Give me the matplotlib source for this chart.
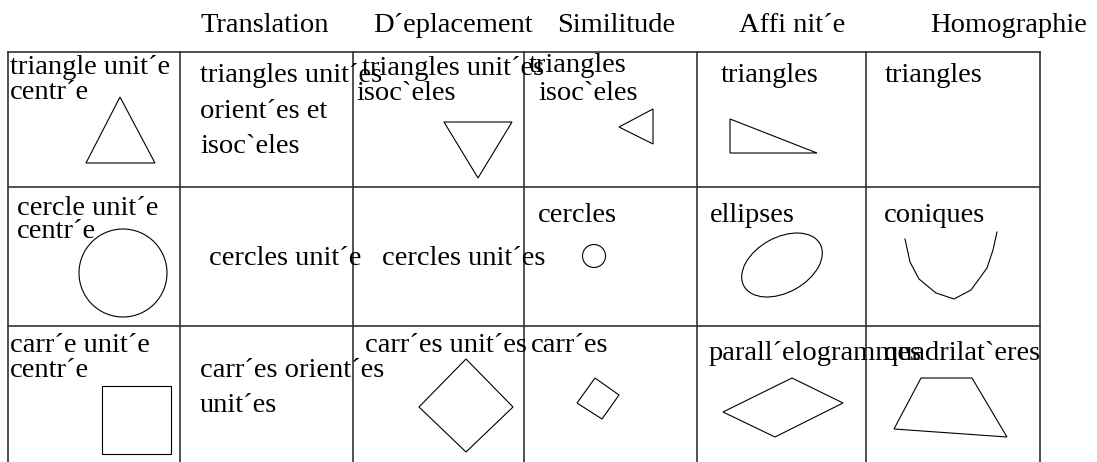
import matplotlib.pyplot as plt
from matplotlib.patches import Polygon, Circle, Ellipse

plt.rcParams['font.family'] = ['Liberation Serif', 'DejaVu Serif']

# column headers (transformations)
headers = ["Translation", "D´eplacement", "Similitude", "Affi nit´e", "Homographie"]

# text lines inside the cells: (row, col, line)
cell_lines = [
    (0, 0, "triangle unit´e"), (0, 0, "centr´e"),
    (0, 1, "triangles unit´es"), (0, 1, "orient´es et"), (0, 1, "isoc`eles"),
    (0, 2, "triangles unit´es"), (0, 2, "isoc`eles"),
    (0, 3, "triangles"), (0, 3, "isoc`eles"),
    (0, 4, "triangles"),
    (0, 5, "triangles"),
    (1, 0, "cercle unit´e"), (1, 0, "centr´e"),
    (1, 1, "cercles unit´e"),
    (1, 2, "cercles unit´es"),
    (1, 3, "cercles"),
    (1, 4, "ellipses"),
    (1, 5, "coniques"),
    (2, 0, "carr´e unit´e"), (2, 0, "centr´e"),
    (2, 1, "carr´es orient´es"), (2, 1, "unit´es"),
    (2, 2, "carr´es unit´es"),
    (2, 3, "carr´es"),
    (2, 4, "parall´elogrammes"),
    (2, 5, "quadrilat`eres"),
]

# shapes drawn in the cells (pixel coordinates of the page)
tri_unit = [(86, 163), (155, 163), (120, 97)]
tri_down = [(444, 122), (512, 122), (478, 178)]
tri_left = [(619, 127), (653, 109), (653, 144)]
tri_right = [(730, 119), (730, 153), (817, 153)]
sq_unit = [(102, 386), (171, 386), (171, 454), (102, 454)]
sq_diamond = [(466, 359), (513, 407), (466, 452), (419, 407)]
sq_small = [(595, 378), (619, 395), (602, 419), (577, 403)]
parallelo = [(723, 412), (792, 378), (843, 403), (775, 437)]
quadri = [(921, 378), (972, 378), (1007, 437), (894, 429)]
conic_x = [905, 910, 919, 936, 954, 971, 987, 993, 997]
conic_y = [239, 262, 279, 293, 299, 290, 268, 250, 232]

# layout
col_x = [8, 180, 353, 524, 697, 866, 1040]
row_y = [52, 187, 326, 470]
header_pos = [(200, 32), (373, 32), (557, 32), (739, 32), (930, 32)]
line_pos = [
    (10, 74), (10, 99),
    (200, 82), (200, 118), (200, 153),
    (362, 75), (356, 100),
    (529, 72), (538, 100),
    (721, 82),
    (885, 82),
    (17, 215), (17, 238),
    (209, 265),
    (382, 265),
    (538, 222),
    (710, 222),
    (884, 222),
    (10, 352), (10, 377),
    (200, 377), (200, 412),
    (365, 352),
    (531, 352),
    (709, 360),
    (884, 360),
]

fig = plt.figure(figsize=(10.97, 4.62), dpi=100)
ax = fig.add_axes([0, 0, 1, 1])
ax.set_xlim(0, 1097)
ax.set_ylim(462, 0)
ax.axis('off')

# table grid
for x in col_x:
    ax.plot([x, x], [row_y[0], row_y[-1]], color='#333333', lw=1.2)
for y in row_y[:-1]:
    ax.plot([col_x[0], col_x[-1]], [y, y], color='#333333', lw=1.2)

fs = 20.5
for (x, y), h in zip(header_pos, headers):
    ax.text(x, y, h, fontsize=fs, ha='left', va='baseline')
for (x, y), (r, c, t) in zip(line_pos, cell_lines):
    ax.text(x, y, t, fontsize=fs, ha='left', va='baseline')

for pts in [tri_unit, tri_down, tri_left, tri_right, sq_unit, sq_diamond,
            sq_small, parallelo, quadri]:
    ax.add_patch(Polygon(pts, closed=True, fill=False, ec='black', lw=0.8))

ax.add_patch(Circle((123, 273), 44, fill=False, ec='black', lw=0.8))
ax.add_patch(Circle((594, 256), 11.5, fill=False, ec='black', lw=0.8))
# y axis is inverted, so a negative angle tilts the ellipse up to the right
ax.add_patch(Ellipse((782, 265), 87, 55, angle=-29, fill=False, ec='black', lw=0.8))
ax.plot(conic_x, conic_y, color='black', lw=0.8)

fig.savefig('out.png', dpi=100)
